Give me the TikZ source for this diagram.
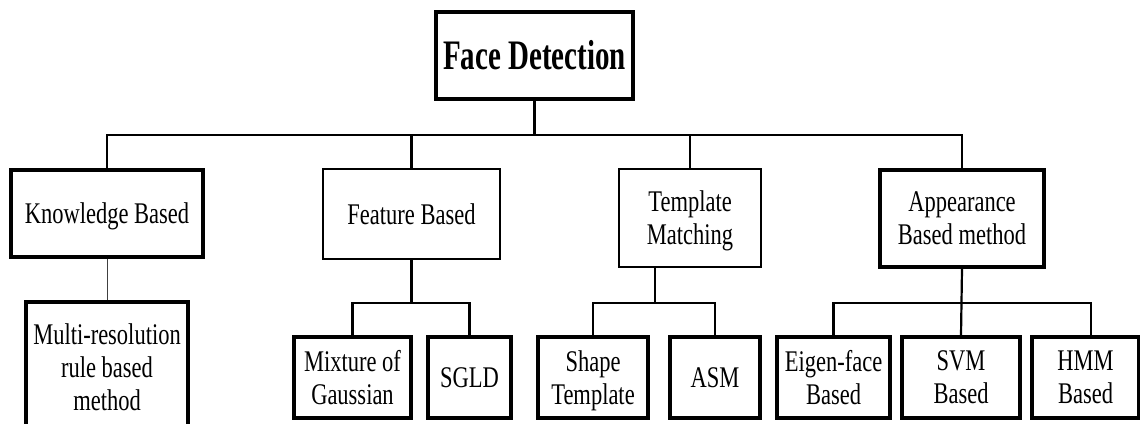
\documentclass[tikz,border=0pt]{standalone}
\usepackage{fontspec}
\newfontfamily\tnr[FakeStretch=0.75]{Liberation Serif}
\newfontfamily\tnrhead[FakeStretch=0.69]{Liberation Serif}
\begin{document}
\begin{tikzpicture}[x=1pt,y=-1pt,
  base/.style={draw=black,inner sep=0pt,align=center,text depth=0pt,
    font=\tnr\fontsize{30}{33}\selectfont},
  thickbox/.style={base,line width=3.4pt},
  thinbox/.style={base,line width=1.8pt},
  headbox/.style={draw=black,line width=3.4pt,inner sep=0pt,
    font=\tnrhead\bfseries\fontsize{42}{46}\selectfont},
  conn/.style={line width=2.2pt,line cap=rect},
  thinconn/.style={line width=1pt,draw=black!75}]
\useasboundingbox (0,0) rectangle (1140,423);
% top
\node[headbox,minimum width=197pt,minimum height=87pt] (face) at (534.5,55.5) {Face Detection};
% level 1
\node[thickbox,minimum width=192pt,minimum height=87pt] (kb) at (107,213.5) {Knowledge Based};
\node[thinbox,minimum width=177pt,minimum height=90pt] (fb) at (411.5,214) {Feature Based};
\node[thinbox,minimum width=142pt,minimum height=98pt] (tm) at (690,218) {Template\\Matching};
\node[thickbox,minimum width=164pt,minimum height=97pt] (ab) at (962,218.5) {Appearance\\Based method};
% level 2
\node[thickbox,minimum width=162pt,minimum height=130pt] (mr) at (107,367) {Multi-resolution\\rule based\\method};
\node[thickbox,minimum width=117pt,minimum height=81pt] (mg) at (352.5,377.5) {Mixture of\\Gaussian};
\node[thickbox,minimum width=83pt,minimum height=81pt] (sgld) at (469.5,377.5) {SGLD};
\node[thickbox,minimum width=110pt,minimum height=81pt] (st) at (593,377.5) {Shape\\Template};
\node[thickbox,minimum width=90pt,minimum height=81pt] (asm) at (715,377.5) {ASM};
\node[thickbox,minimum width=113pt,minimum height=81pt] (ef) at (833.5,377.5) {Eigen-face\\Based};
\node[thickbox,minimum width=118pt,minimum height=81pt] (svm) at (961,377.5) {SVM\\Based};
\node[thickbox,minimum width=107pt,minimum height=81pt] (hmm) at (1085.5,377.5) {HMM\\Based};
% junction coordinates
\coordinate (bar) at (0,135);
\coordinate (sub) at (0,303);
\coordinate (tmj) at (655,303);
\coordinate (hmmj) at (1091,337);
% connectors level 0 -> 1
\draw[conn] (face.south) -- (face.south |- bar);
\draw[conn] (kb.north) |- (ab.north |- bar) -- (ab.north);
\draw[conn] (fb.north) -- (fb.north |- bar);
\draw[conn] (tm.north) -- (tm.north |- bar);
% knowledge
\draw[thinconn] (kb.south) -- (mr.north);
% feature
\draw[conn] (fb.south) -- (fb.south |- sub);
\draw[conn] (mg.north) |- (sgld.north |- sub) -- (sgld.north);
% template
\draw[conn] (tm.south -| tmj) -- (tmj);
\draw[conn] (st.north) |- (asm.north |- sub) -- (asm.north);
% appearance
\draw[conn] (ab.south) -- (svm.north);
\draw[conn] (ef.north) |- (hmmj |- sub) -- (hmmj);
\end{tikzpicture}
\end{document}
